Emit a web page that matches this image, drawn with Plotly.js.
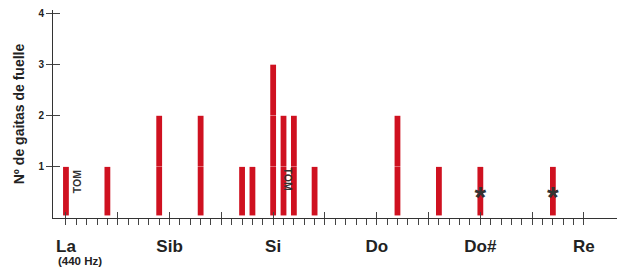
<!DOCTYPE html>
<html>
<head>
<meta charset="utf-8">
<script src="https://cdn.plot.ly/plotly-3.0.1.min.js"></script>
<style>html,body{margin:0;padding:0;background:#fff;}#chart{width:619px;height:273px;}</style>
</head>
<body>
<div id="chart"></div>
<script>
// Data: position of each tuning in cents above La (440 Hz), and number of bagpipes
const cents  = [0, 40, 90, 130, 170, 180, 200, 210, 220, 240, 320, 360, 400, 470];
const counts = [1,  1,  2,   2,   1,   1,   3,   2,   2,   1,   2,   1,   1,   1];
// Note names (tick labels) every 100 cents
const noteCents = [0, 100, 200, 300, 400, 500];
const noteNames = ['La', 'Sib', 'Si', 'Do', 'Do#', 'Re'];
// Marked tunings (asterisks)
const starCents = [400, 470];
const starLevel = [0.5, 0.5];
// TOM annotations
const tomCents = [10.6, 214];
const tomLevel = [0.72, 0.76];

const RED = '#cf1120';
const FONT = 'Liberation Sans, Arial, Helvetica, sans-serif';

// stacked unit segments with a faint seam at each integer level
const traces = [];
const maxCount = Math.max(...counts);
for (let k = 0; k < maxCount; k++) {
  const xs = [], ys = [], bs = [];
  cents.forEach((c, i) => {
    if (counts[i] > k) {
      xs.push(c);
      const bottom = k === 0 ? 0.05 : k + 0.006;
      bs.push(bottom);
      ys.push((k + 1) - bottom);
    }
  });
  traces.push({
    type: 'bar', x: xs, y: ys, base: bs, width: 5.6,
    marker: {color: RED, line: {width: 0}},
    hoverinfo: 'skip', showlegend: false
  });
}

traces.push({
  type: 'scatter', mode: 'text', x: starCents, y: starLevel.map(v => v - 0.13),
  text: starCents.map(() => '*'),
  textposition: 'middle center',
  textfont: {family: FONT, size: 30, color: '#333', weight: 'bold'},
  hoverinfo: 'skip', showlegend: false, cliponaxis: false
});

// dummy trace on overlay axes so they are drawn
traces.push({type: 'scatter', mode: 'markers', x: [-100], y: [-100], xaxis: 'x2', yaxis: 'y2',
  marker: {opacity: 0}, hoverinfo: 'skip', showlegend: false});

const minorVals = [];
for (let v = 0; v <= 500; v += 10) minorVals.push(v);
const minorText = minorVals.map(v => {
  const j = noteCents.indexOf(v);
  return j >= 0 ? noteNames[j] : '';
});
const halfVals = [];
for (let v = 0; v <= 500; v += 50) halfVals.push(v);

const xr = [-12.5, 531.9];
const yr = [0, 4.07];

const layout = {
  width: 619, height: 273,
  margin: {l: 53, r: 2, t: 10, b: 55, pad: 0},
  paper_bgcolor: '#fff', plot_bgcolor: '#fff',
  barmode: 'overlay',
  showlegend: false,
  xaxis: {
    range: xr, fixedrange: true,
    showline: true, linecolor: '#333', linewidth: 1,
    showgrid: false, zeroline: false,
    tickmode: 'array', tickvals: minorVals, ticktext: minorText,
    ticks: 'outside', ticklen: 6, tickwidth: 1, tickcolor: '#444',
    ticklabelstandoff: 7,
    tickfont: {family: FONT, size: 17, color: '#222', weight: 'bold'}
  },
  xaxis2: {
    range: xr, overlaying: 'x', anchor: 'y', side: 'bottom',
    showline: false, showgrid: false, zeroline: false,
    tickmode: 'array', tickvals: halfVals, showticklabels: false,
    ticks: 'inside', ticklen: 6, tickwidth: 1, tickcolor: '#444'
  },
  yaxis: {
    range: yr, fixedrange: true,
    showline: true, linecolor: '#333', linewidth: 1,
    showgrid: false, zeroline: false,
    tickmode: 'array', tickvals: [1, 2, 3, 4], ticktext: ['1', '2', '3', '4'],
    ticks: 'outside', ticklen: 6, tickwidth: 1, tickcolor: '#444',
    tickfont: {family: FONT, size: 10, color: '#222', weight: 'bold'},
    title: {text: 'Nº de gaitas de fuelle', standoff: 10,
      font: {family: FONT, size: 14, color: '#222', weight: 'bold'}}
  },
  yaxis2: {
    range: yr, overlaying: 'y', anchor: 'x', side: 'left',
    showline: false, showgrid: false, zeroline: false,
    tickmode: 'array', tickvals: [1, 2, 3, 4], showticklabels: false,
    ticks: 'inside', ticklen: 7, tickwidth: 1, tickcolor: '#444'
  },
  annotations: [
    {x: -9.5, y: 0, xref: 'x', yref: 'paper', yshift: -35, xanchor: 'left', yanchor: 'top',
     text: '(440 Hz)', showarrow: false,
     font: {family: FONT, size: 11.5, color: '#222', weight: 'bold'}},
    {x: tomCents[0], y: tomLevel[0], xref: 'x', yref: 'y', text: 'TOM', textangle: -90,
     showarrow: false, font: {family: FONT, size: 10.5, color: '#333', weight: 'bold'}},
    {x: tomCents[1], y: tomLevel[1], xref: 'x', yref: 'y', text: 'TOM', textangle: 90,
     showarrow: false, font: {family: FONT, size: 10.5, color: '#333', weight: 'bold'}}
  ]
};

Plotly.newPlot('chart', traces, layout, {displayModeBar: false, staticPlot: true});
</script>
</body>
</html>
